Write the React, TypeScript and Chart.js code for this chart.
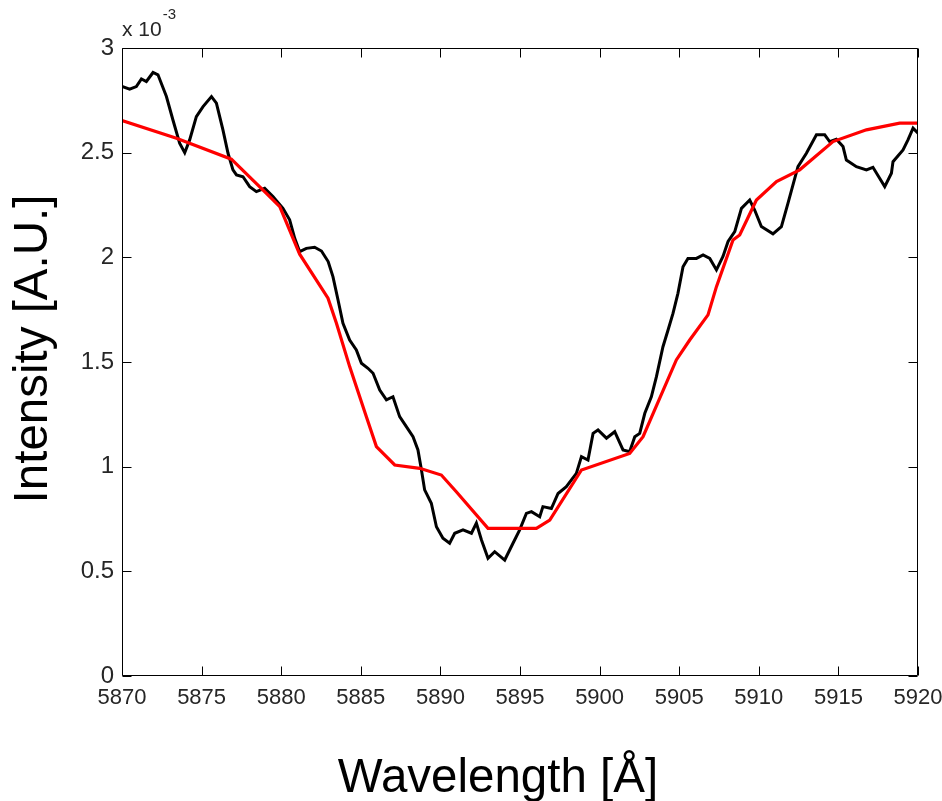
import React, { useEffect, useRef } from "react";
import { Chart, registerables } from "chart.js";

Chart.register(...registerables);

// Measured spectrum (black), intensity in units of 1e-3
const blackWavelength = [
  5870.0, 5870.48, 5870.9, 5871.22, 5871.53, 5871.95, 5872.26, 5872.79, 5873.2, 5873.62,
  5873.94, 5874.25, 5874.67, 5875.09, 5875.62, 5875.93, 5876.34, 5876.66, 5876.97, 5877.19,
  5877.6, 5878.02, 5878.44, 5878.96, 5879.48, 5880.11, 5880.53, 5880.85, 5881.16, 5881.58,
  5882.1, 5882.53, 5882.95, 5883.25, 5883.57, 5883.88, 5884.3, 5884.72, 5885.04, 5885.45,
  5885.77, 5886.19, 5886.61, 5887.02, 5887.44, 5887.86, 5888.28, 5888.59, 5888.81, 5889.01,
  5889.43, 5889.75, 5890.16, 5890.58, 5890.9, 5891.42, 5891.95, 5892.26, 5892.58, 5892.99,
  5893.41, 5894.04, 5894.56, 5894.98, 5895.4, 5895.72, 5896.24, 5896.44, 5896.97, 5897.39,
  5897.91, 5898.54, 5898.86, 5899.27, 5899.59, 5899.9, 5900.43, 5900.95, 5901.47, 5901.89,
  5902.21, 5902.52, 5902.84, 5903.25, 5903.57, 5903.98, 5904.3, 5904.61, 5904.92, 5905.24,
  5905.55, 5906.08, 5906.5, 5906.92, 5907.34, 5907.75, 5908.07, 5908.49, 5908.91, 5909.43,
  5909.74, 5910.16, 5910.89, 5911.42, 5911.83, 5912.46, 5912.99, 5913.62, 5914.14, 5914.45,
  5914.87, 5915.29, 5915.5, 5916.13, 5916.76, 5917.17, 5917.59, 5917.91, 5918.33, 5918.43,
  5919.06, 5919.37, 5919.69, 5920.0,
];
const blackIntensity = [
  2.816, 2.803, 2.816, 2.852, 2.84, 2.883, 2.872, 2.768, 2.656, 2.545,
  2.5, 2.561, 2.672, 2.72, 2.768, 2.737, 2.609, 2.497, 2.418, 2.394,
  2.385, 2.338, 2.314, 2.33, 2.29, 2.234, 2.179, 2.091, 2.027, 2.043,
  2.048, 2.03, 1.98, 1.908, 1.796, 1.685, 1.605, 1.558, 1.494, 1.47,
  1.446, 1.366, 1.319, 1.334, 1.239, 1.191, 1.143, 1.08, 0.984, 0.889,
  0.825, 0.713, 0.658, 0.634, 0.682, 0.698, 0.682, 0.73, 0.65, 0.562,
  0.594, 0.554, 0.634, 0.698, 0.777, 0.785, 0.761, 0.809, 0.8, 0.872,
  0.904, 0.968, 1.048, 1.032, 1.159, 1.175, 1.136, 1.167, 1.08, 1.072,
  1.143, 1.159, 1.255, 1.334, 1.43, 1.573, 1.653, 1.732, 1.828, 1.955,
  1.995, 1.995, 2.011, 1.995, 1.94, 2.004, 2.076, 2.123, 2.234, 2.274,
  2.226, 2.147, 2.112, 2.147, 2.258, 2.433, 2.497, 2.585, 2.585, 2.553,
  2.564, 2.529, 2.465, 2.433, 2.418, 2.43, 2.378, 2.338, 2.402, 2.457,
  2.513, 2.561, 2.617, 2.593,
];

// Fitted profile (red)
const fitWavelength = [
  5870.0, 5873.42, 5876.87, 5879.07, 5879.91, 5881.16, 5882.94, 5883.47, 5884.3, 5885.35,
  5885.98, 5887.13, 5888.7, 5890.06, 5891.0, 5892.99, 5896.03, 5896.87, 5898.86, 5901.89,
  5902.73, 5904.82, 5905.66, 5906.81, 5907.34, 5908.38, 5908.8, 5909.85, 5911.11, 5912.57,
  5914.66, 5916.76, 5918.85, 5920.0,
];
const fitIntensity = [
  2.653, 2.569, 2.469, 2.306, 2.242, 2.015, 1.805, 1.685, 1.478, 1.239,
  1.096, 1.008, 0.992, 0.96, 0.88, 0.705, 0.705, 0.745, 0.984, 1.063,
  1.143, 1.51, 1.605, 1.725, 1.86, 2.083, 2.107, 2.274, 2.362, 2.418,
  2.553, 2.609, 2.641, 2.641,
];

const xTicks = [5870, 5875, 5880, 5885, 5890, 5895, 5900, 5905, 5910, 5915, 5920];
const yTicks = [0, 0.5, 1, 1.5, 2, 2.5, 3];

const xTitle = "Wavelength [Å]";
const yTitle = "Intensity [A.U.]";
const exponentBase = "x 10";
const exponentPower = "-3";

const FONT = "'Liberation Sans', Arial, Helvetica, sans-serif";

const framePlugin = {
  id: "matlabFrame",
  afterDatasetsDraw(chart: any) {
    const { ctx, chartArea: a, scales } = chart;
    const L = Math.round(a.left) + 0.5;
    const R = Math.round(a.right) - 0.5;
    const T = Math.round(a.top) + 0.5;
    const B = Math.round(a.bottom) - 0.5;
    const tl = 9;
    ctx.save();
    ctx.strokeStyle = "#000";
    ctx.lineWidth = 1;
    ctx.beginPath();
    ctx.rect(L, T, R - L, B - T);
    for (const v of xTicks) {
      const px = Math.round(scales.x.getPixelForValue(v)) + 0.5;
      ctx.moveTo(px, B);
      ctx.lineTo(px, B - tl);
      ctx.moveTo(px, T);
      ctx.lineTo(px, T + tl);
    }
    for (const v of yTicks) {
      const py = Math.round(scales.y.getPixelForValue(v)) + 0.5;
      ctx.moveTo(L, py);
      ctx.lineTo(L + tl, py);
      ctx.moveTo(R, py);
      ctx.lineTo(R - tl, py);
    }
    ctx.stroke();
    ctx.restore();
  },
  afterDraw(chart: any) {
    const { ctx } = chart;
    ctx.save();
    ctx.fillStyle = "#000";
    // x-axis title
    ctx.font = `47.5px ${FONT}`;
    ctx.textAlign = "center";
    ctx.textBaseline = "alphabetic";
    ctx.fillText(xTitle, 498, 792);
    // y-axis title
    ctx.save();
    ctx.translate(47, 349);
    ctx.rotate(-Math.PI / 2);
    ctx.font = `47.5px ${FONT}`;
    ctx.fillText(yTitle, 0, 0);
    ctx.restore();
    // exponent
    ctx.fillStyle = "#262626";
    ctx.textAlign = "left";
    ctx.font = `21px ${FONT}`;
    ctx.fillText(exponentBase, 122, 36);
    const w = ctx.measureText(exponentBase).width;
    ctx.font = `15px ${FONT}`;
    ctx.fillText(exponentPower, 122 + w + 1, 19);
    ctx.restore();
  },
};

export default function App() {
  const canvasRef = useRef<HTMLCanvasElement | null>(null);

  useEffect(() => {
    if (!canvasRef.current) return;
    const blackData = blackWavelength.map((x, i) => ({ x, y: blackIntensity[i] }));
    const fitData = fitWavelength.map((x, i) => ({ x, y: fitIntensity[i] }));
    const chart = new Chart(canvasRef.current, {
      type: "line",
      data: {
        datasets: [
          {
            label: "Fit",
            data: fitData,
            borderColor: "#ff0000",
            backgroundColor: "#ff0000",
            borderWidth: 3.2,
            pointRadius: 0,
            tension: 0,
            fill: false,
          },
          {
            label: "Measured",
            data: blackData,
            borderColor: "#000000",
            backgroundColor: "#000000",
            borderWidth: 3,
            pointRadius: 0,
            tension: 0,
            fill: false,
          },
        ],
      },
      options: {
        animation: false,
        responsive: false,
        devicePixelRatio: 1,
        layout: { padding: { left: 0, top: 48, right: 24, bottom: 0 } },
        plugins: {
          legend: { display: false },
          tooltip: { enabled: false },
          title: { display: false },
        },
        scales: {
          x: {
            type: "linear",
            min: 5870,
            max: 5920,
            afterBuildTicks: (scale: any) => {
              scale.ticks = xTicks.map((v) => ({ value: v }));
            },
            afterFit: (scale: any) => {
              scale.height = 125;
              scale.paddingLeft = 0;
              scale.paddingRight = 0;
            },
            grid: { display: false, drawTicks: false },
            border: { display: false },
            ticks: {
              autoSkip: false,
              maxRotation: 0,
              padding: 9,
              color: "#262626",
              font: { family: FONT, size: 22 },
              callback: (v: any) => String(v),
            },
          },
          y: {
            type: "linear",
            min: 0,
            max: 3,
            afterBuildTicks: (scale: any) => {
              scale.ticks = yTicks.map((v) => ({ value: v }));
            },
            afterFit: (scale: any) => {
              scale.width = 122;
              scale.paddingTop = 0;
              scale.paddingBottom = 0;
            },
            grid: { display: false, drawTicks: false },
            border: { display: false },
            ticks: {
              autoSkip: false,
              padding: 8,
              color: "#262626",
              font: { family: FONT, size: 24 },
              callback: (v: any) => String(v),
            },
          },
        },
      },
      plugins: [framePlugin],
    });
    return () => chart.destroy();
  }, []);

  return (
    <div style={{ position: "absolute", left: 0, top: 0, width: 942, height: 801, background: "#fff" }}>
      <canvas ref={canvasRef} width={942} height={801} style={{ display: "block" }} />
    </div>
  );
}
